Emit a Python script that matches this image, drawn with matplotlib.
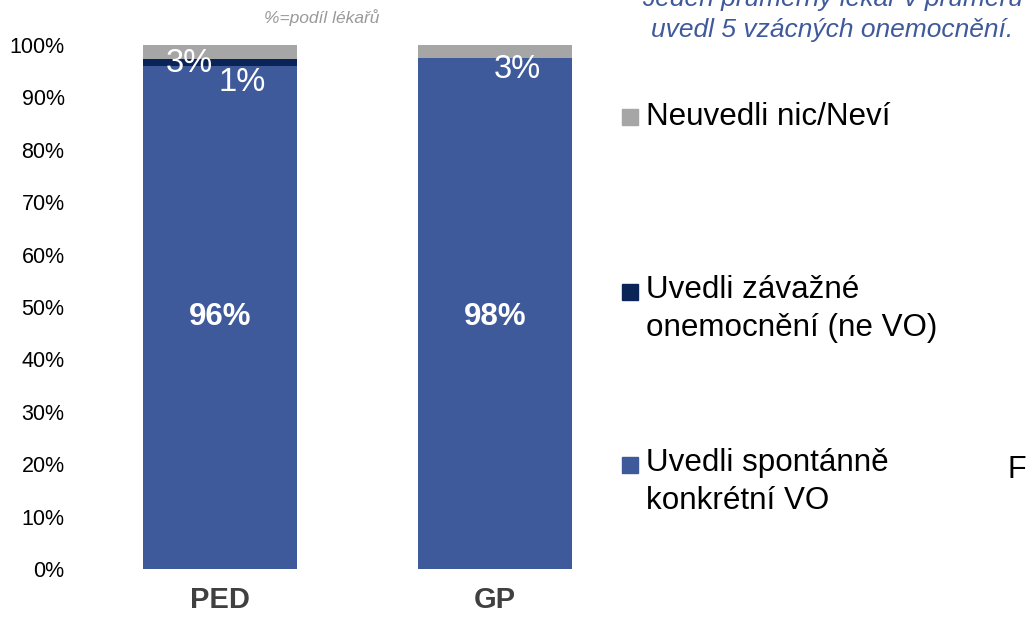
import numpy as np
import matplotlib.pyplot as plt
from matplotlib.patches import Rectangle

plt.rcParams['font.family'] = ['Liberation Sans', 'DejaVu Sans']

# Data
groups = ['PED', 'GP']
series = ['Uvedli spontánně\nkonkrétní VO',
          'Uvedli závažné\nonemocnění (ne VO)',
          'Neuvedli nic/Neví']
spont = np.array([96.0, 97.5])
zavazne = np.array([1.3, 0.0])
nevi = np.array([2.7, 2.5])
spont_labels = ['96%', '98%']
zavazne_labels = ['1%', '']
nevi_labels = ['3%', '3%']
colors = ['#3F5A9B', '#0B2458', '#A6A6A6']

fig = plt.figure(figsize=(10.28, 6.2), dpi=100)
ax = fig.add_axes([0.0669, 0.0823, 0.5216, 0.8451])

x = np.arange(len(groups))
w = 0.56
ax.bar(x, spont, w, color=colors[0])
ax.bar(x, zavazne, w, bottom=spont, color=colors[1])
ax.bar(x, nevi, w, bottom=spont + zavazne, color=colors[2])

ax.set_xlim(-0.55, 1.4)
ax.set_ylim(0, 100)
ax.set_yticks(np.arange(0, 101, 10))
ax.set_yticklabels([f'{v}%' for v in range(0, 101, 10)], fontsize=15.5)
ax.set_xticks(x)
ax.set_xticklabels(groups, fontsize=21, fontweight='bold', color='#404040')
ax.tick_params(axis='both', length=0)
ax.tick_params(axis='y', pad=3)
ax.tick_params(axis='x', pad=12)
for s in ax.spines.values():
    s.set_visible(False)

# value labels
for i in range(len(groups)):
    ax.text(x[i], 48, spont_labels[i], ha='center', va='center',
            color='white', fontsize=22.5, fontweight='bold')
ax.text(x[0] - 0.11, 96.5, nevi_labels[0], ha='center', va='center',
        color='white', fontsize=23.5)
ax.text(x[0] + 0.08, 92.8, zavazne_labels[0], ha='center', va='center',
        color='white', fontsize=23.5)
ax.text(x[1] + 0.08, 95.4, nevi_labels[1], ha='center', va='center',
        color='white', fontsize=23.5)

# legend drawn by hand (uneven spacing in the original)
leg_y = [482, 309, 117]
for col, lab, yy in zip(colors, series, leg_y):
    fy = 1 - yy / 620
    nlines = lab.count('\n') + 1
    sq_y = fy + (nlines - 1) * 0.0282
    fig.add_artist(Rectangle((622 / 1028, sq_y - 8 / 620), 16 / 1028, 16 / 620,
                             transform=fig.transFigure, color=col))
    fig.text(646 / 1028, fy, lab, ha='left', va='center', fontsize=22.6,
             linespacing=1.36)

fig.text(322 / 1028, 1 - 18 / 620, '%=podíl lékařů', ha='center', va='center',
         fontsize=12.5, style='italic', color='#9A9A9A')
fig.text(832 / 1028, 1 + 2 / 620, 'Jeden průměrný lékař v průměru',
         ha='center', va='center', fontsize=19, style='italic', color='#3F5A9B')
fig.text(832 / 1028, 1 - 30 / 620, 'uvedl 5 vzácných onemocnění.',
         ha='center', va='center', fontsize=19, style='italic', color='#3F5A9B')
fig.text(1017 / 1028, 1 - 470 / 620, 'F', ha='center', va='center', fontsize=22)

fig.savefig('out.png', dpi=100)
